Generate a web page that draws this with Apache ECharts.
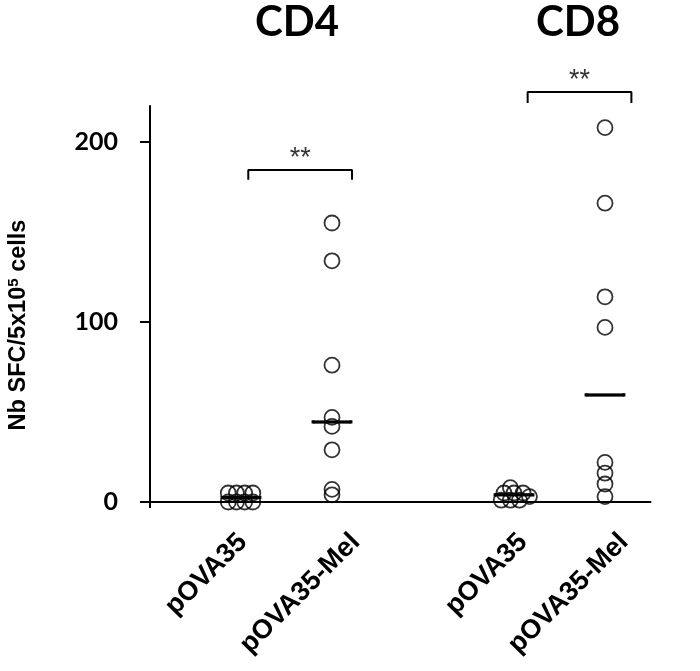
<!DOCTYPE html>
<html><head><meta charset="utf-8">
<script src="https://cdn.jsdelivr.net/npm/echarts@6/dist/echarts.min.js"></script>
<style>html,body{margin:0;padding:0;background:#fff}#c{width:700px;height:671px}</style>
</head><body><div id="c"></div>
<script>
// ---- data ----
const panelTitles = ['CD4', 'CD8'];
const categories = ['pOVA35', 'pOVA35-Mel', 'pOVA35', 'pOVA35-Mel'];
const cd4_pOVA35 = [5, 5, 5, 5, 0, 0, 0, 0];
const cd4_pOVA35Mel = [155, 134, 76, 47, 42, 29, 7, 4];
const cd8_pOVA35 = [8, 5, 5, 5, 3, 1, 1, 1];
const cd8_pOVA35Mel = [208, 166, 114, 97, 22, 16, 10, 3];
const significance = ['**', '**'];
const yTicks = [0, 100, 200];

// ---- layout ----
const groups = [cd4_pOVA35, cd4_pOVA35Mel, cd8_pOVA35, cd8_pOVA35Mel];
const groupX = [1, 2, 4, 5];
const jitter = [
  [-0.14, -0.05, 0.04, 0.13, -0.14, -0.05, 0.04, 0.13],
  [0, 0, 0, 0, 0, 0, 0, 0],
  [-0.04, -0.11, 0.0, 0.1, 0.17, -0.14, -0.04, 0.06],
  [0, 0, 0, 0, 0, 0, 0, 0]
];
const labelX = [1.02, 2.26, 4.10, 5.21];
const brackets = [
  {x1: 1.08, x2: 2.22, yTop: 184.4, yEnd: 179},
  {x1: 4.15, x2: 5.29, yTop: 227.8, yEnd: 221.7}
];

function median(a) {
  const s = a.slice().sort((p, q) => p - q);
  const m = s.length / 2;
  return s.length % 2 ? s[Math.floor(m)] : (s[m - 1] + s[m]) / 2;
}

const pointData = [];
groups.forEach((g, gi) => g.forEach((v, i) => pointData.push([groupX[gi] + jitter[gi][i], v])));
const medianData = groups.map((g, gi) => [groupX[gi], median(g)]);

const series = [
  {
    type: 'scatter', data: pointData, symbol: 'circle', symbolSize: 15,
    itemStyle: {color: 'rgba(0,0,0,0)', borderColor: '#000', borderWidth: 1.8},
    silent: true, clip: false, z: 3
  },
  {
    type: 'scatter', data: medianData, symbol: 'rect', symbolSize: [38, 3],
    itemStyle: {color: '#000', borderColor: '#000', borderWidth: 0.8, opacity: 1}, silent: true, clip: false, z: 4
  }
];
brackets.forEach((b, i) => {
  series.push({
    type: 'line', data: [[b.x1, b.yEnd], [b.x1, b.yTop], [b.x2, b.yTop], [b.x2, b.yEnd]],
    symbol: 'none', lineStyle: {color: '#000', width: 2}, clip: false, silent: true
  });
  series.push({
    type: 'scatter', data: [[(b.x1 + b.x2) / 2, b.yTop]], symbolSize: 0, clip: false, silent: true,
    label: {show: true, position: 'top', distance: -2, formatter: significance[i],
      fontFamily: 'Liberation Sans', fontSize: 27, color: '#000'}
  });
});

const chart = echarts.init(document.getElementById('c'), null, {renderer: 'canvas'});
chart.setOption({
  animation: false,
  backgroundColor: '#fff',
  grid: {left: 150, right: 49.5, top: 106, bottom: 169, containLabel: false},
  xAxis: {
    type: 'value', min: 0, max: 5.5, interval: 0.5,
    axisLine: {lineStyle: {color: '#000', width: 2}},
    axisTick: {show: true, customValues: [0], length: 6, lineStyle: {color: '#000', width: 2}},
    splitLine: {show: false},
    axisLabel: {
      customValues: labelX, rotate: 45, margin: 36,
      formatter: v => { const i = labelX.indexOf(v); return i >= 0 ? categories[i] : ''; },
      fontFamily: 'Liberation Sans', fontWeight: 'bold', fontSize: 27, color: '#000'
    }
  },
  yAxis: {
    type: 'value', min: 0, max: 220, interval: 100,
    axisLine: {show: true, lineStyle: {color: '#000', width: 2}},
    axisTick: {show: true, customValues: yTicks, length: 10, lineStyle: {color: '#000', width: 2}},
    splitLine: {show: false},
    axisLabel: {customValues: yTicks, margin: 32, fontFamily: 'Lato', fontWeight: 'bold', fontSize: 25, color: '#000'}
  },
  graphic: [
    {type: 'text', x: 297, y: 22, style: {text: panelTitles[0], fontFamily: 'Lato', fontWeight: 'bold', fontSize: 42, fill: '#000', align: 'center', verticalAlign: 'middle'}},
    {type: 'text', x: 578, y: 22, style: {text: panelTitles[1], fontFamily: 'Lato', fontWeight: 'bold', fontSize: 42, fill: '#000', align: 'center', verticalAlign: 'middle'}},
    {type: 'text', x: 19, y: 325, rotation: Math.PI / 2,
      style: {text: '{a|Nb SFC/5x10}{s|5}{a| cells}', align: 'center', verticalAlign: 'middle',
        rich: {
          a: {fontFamily: 'Liberation Sans', fontWeight: 'bold', fontSize: 23.5, fill: '#000', lineHeight: 26},
          s: {fontFamily: 'Liberation Sans', fontWeight: 'bold', fontSize: 15, fill: '#000', lineHeight: 26, verticalAlign: 'top', padding: [0, 0, 9, 0]}
        }}}
  ],
  series: series
});
</script></body></html>
